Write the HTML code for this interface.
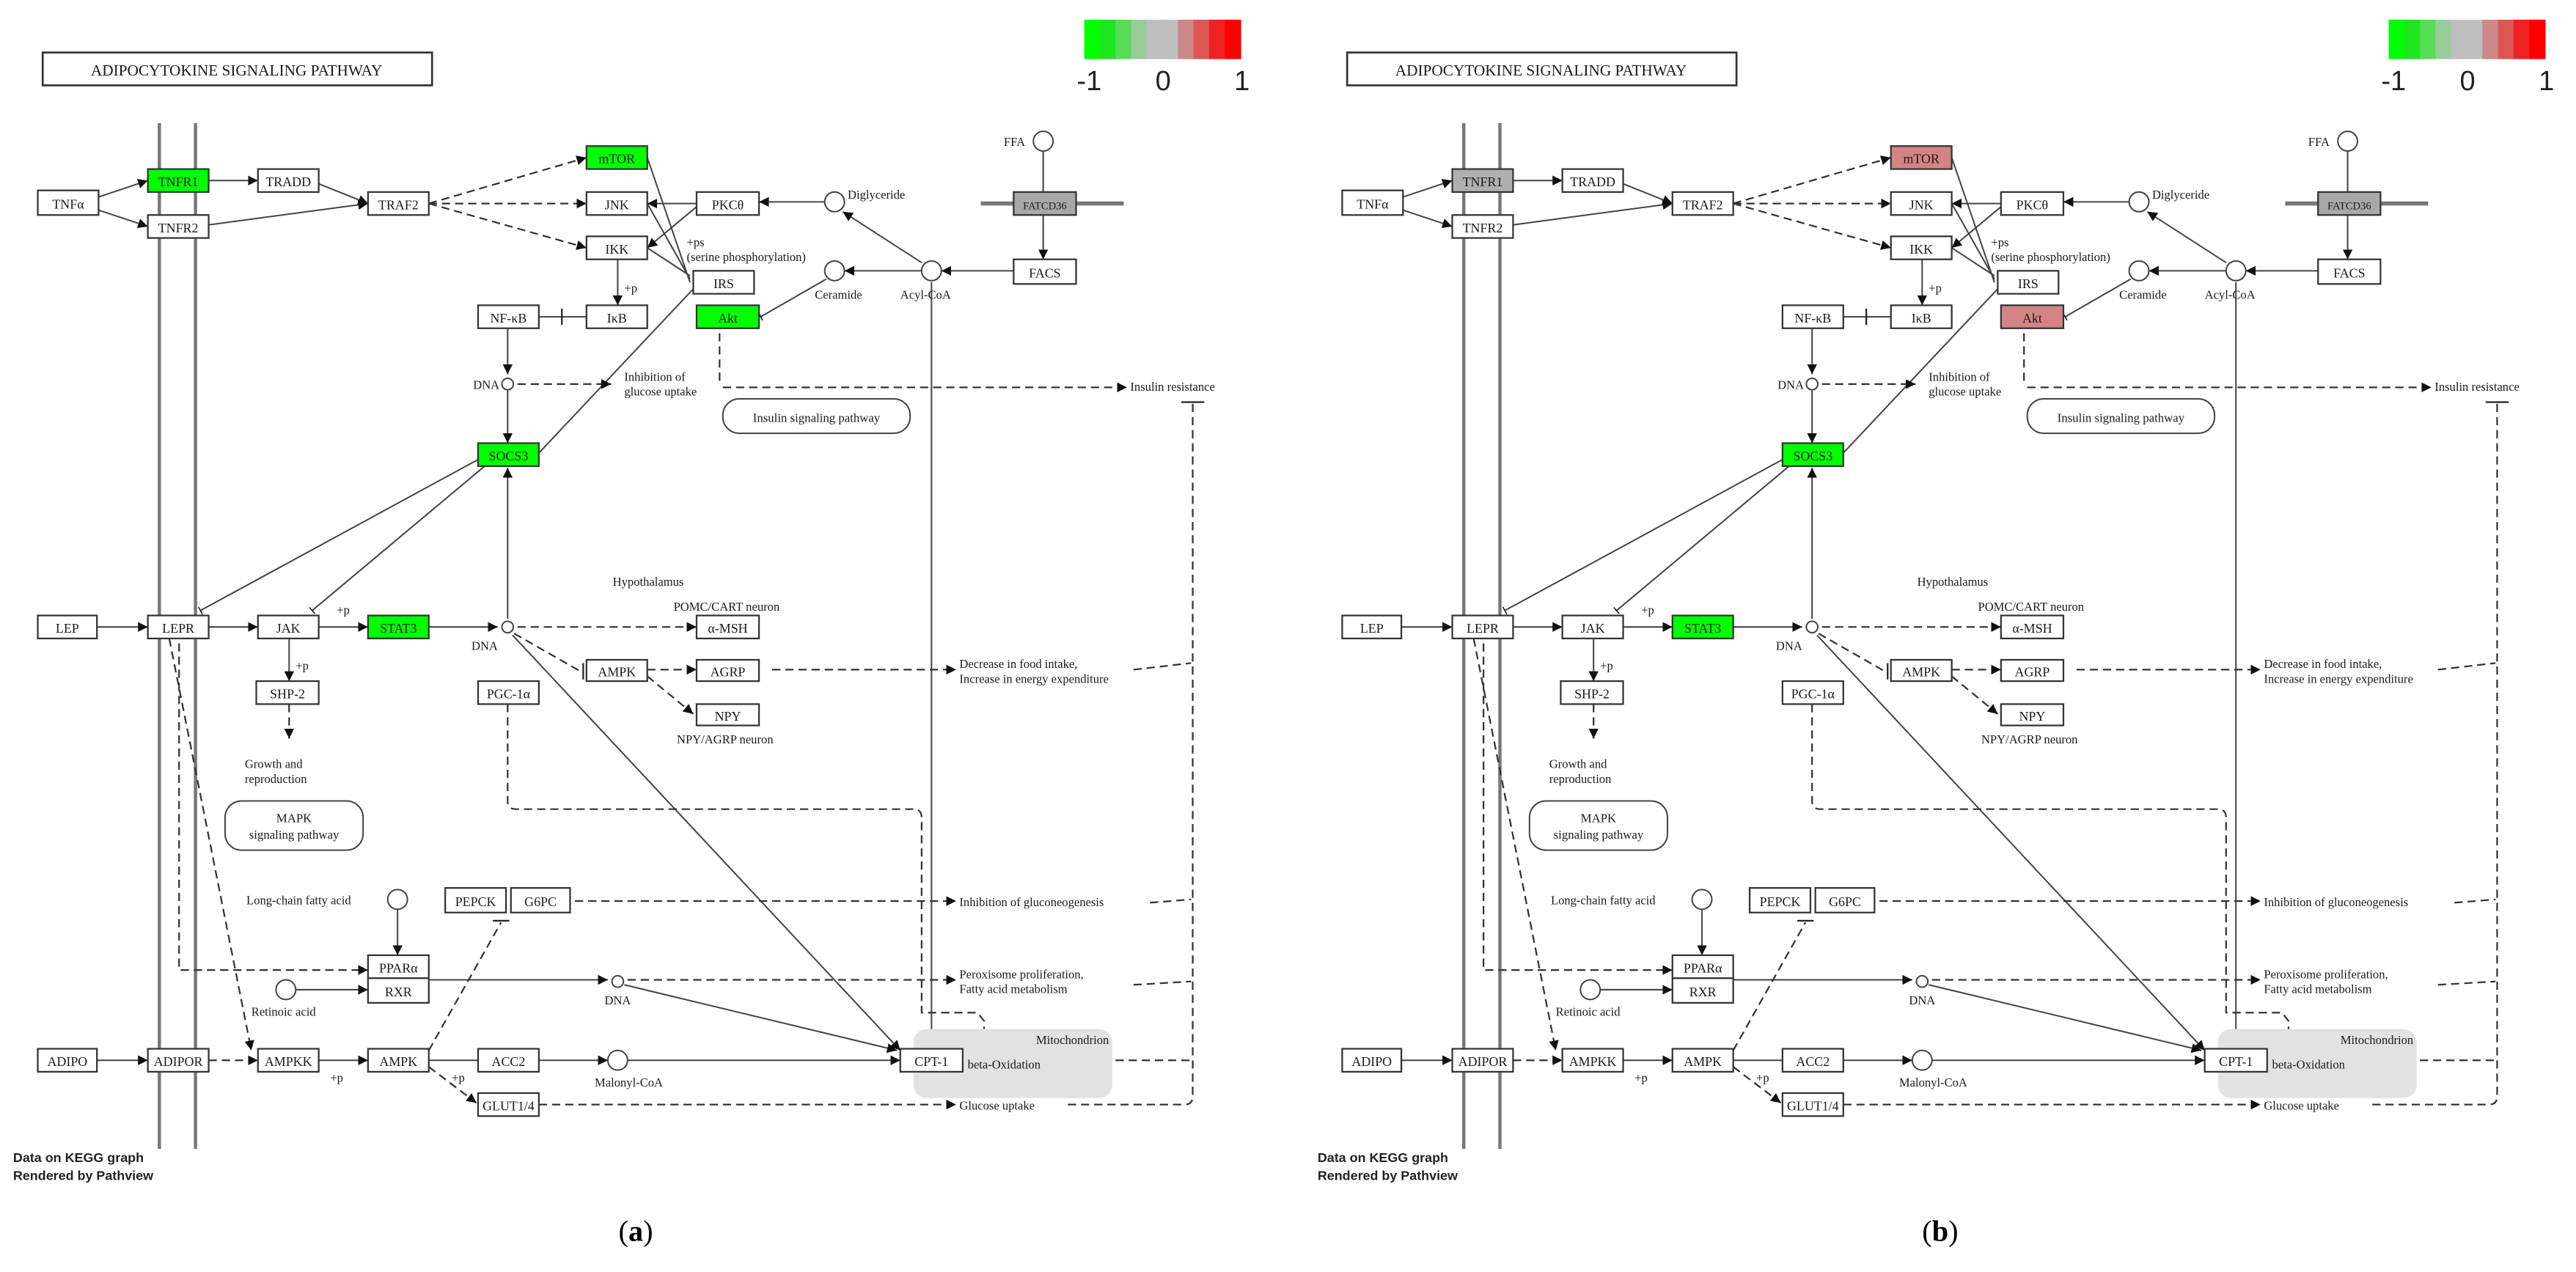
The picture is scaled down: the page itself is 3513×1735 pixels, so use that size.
<!DOCTYPE html>
<html><head><meta charset="utf-8"><style>
html,body{margin:0;padding:0;background:#fff;}
svg{display:block}
.b{fill:#fff;stroke:#333;stroke-width:1}
.t{font-family:"Liberation Serif",serif;font-size:8px;fill:#1a1a1a;text-anchor:middle}
.l{font-family:"Liberation Serif",serif;font-size:7.4px;fill:#1a1a1a}
.s{stroke:#444;stroke-width:0.9;fill:none}
.d{stroke:#333;stroke-width:1;fill:none;stroke-dasharray:5 3}
.g{font-family:"Liberation Sans",sans-serif;fill:#222}
</style></head><body>
<svg width="3513" height="1735" viewBox="0 0 1568 775" preserveAspectRatio="none" xmlns="http://www.w3.org/2000/svg">
<defs>
<marker id="a" viewBox="0 0 10 10" refX="10" refY="5" markerWidth="6" markerHeight="6" orient="auto" markerUnits="userSpaceOnUse"><path d="M0,0L10,5L0,10z" fill="#111"/></marker>
<marker id="t" viewBox="0 0 4 10" refX="2" refY="5" markerWidth="2" markerHeight="8" orient="auto" markerUnits="userSpaceOnUse"><path d="M2,0V10" stroke="#222" stroke-width="1.5"/></marker>
</defs>

<!-- PANEL A -->
<g>
<rect x="26" y="32" width="237" height="20" fill="#fff" stroke="#333" stroke-width="1.2"/>
<text x="144" y="46" class="t" style="font-size:9.5px">ADIPOCYTOKINE SIGNALING PATHWAY</text>
<rect x="660" y="12" width="10" height="24" fill="#00ff00"/><rect x="669.5" y="12" width="10" height="24" fill="#1ee61e"/><rect x="679" y="12" width="10" height="24" fill="#55dd55"/><rect x="688.5" y="12" width="10" height="24" fill="#99cc99"/><rect x="698" y="12" width="10" height="24" fill="#bebebe"/><rect x="707.5" y="12" width="10" height="24" fill="#bebebe"/><rect x="717" y="12" width="10" height="24" fill="#cc8888"/><rect x="726.5" y="12" width="10" height="24" fill="#dd5555"/><rect x="736" y="12" width="10" height="24" fill="#ee2222"/><rect x="745.5" y="12" width="10" height="24" fill="#ff0000"/>
<text x="663" y="55" class="g" style="font-size:17px;text-anchor:middle">-1</text><text x="708" y="55" class="g" style="font-size:17px;text-anchor:middle">0</text><text x="756" y="55" class="g" style="font-size:17px;text-anchor:middle">1</text>
<line x1="97" y1="75" x2="97" y2="700" stroke="#777" stroke-width="2"/><line x1="119" y1="75" x2="119" y2="700" stroke="#777" stroke-width="2"/>
<g class="s" marker-end="url(#a)">
<path d="M60,120L90,110"/><path d="M60,128L90,138"/><path d="M127,110L157,110"/><path d="M194,112L224,124"/><path d="M127,137L224,124"/><path d="M424,124L394,124"/><path d="M424,126L394,151"/><path d="M502,123L462,123"/><path d="M561,160L513,129"/><path d="M561,165L514,165"/><path d="M617,165L573,165"/><path d="M635,92L635,158"/><path d="M376,158L376,186"/><path d="M309,200L309,228"/><path d="M309,238L309,270"/><path d="M309,377L309,285"/><path d="M59,382L90,382"/><path d="M127,382L157,382"/><path d="M194,382L224,382"/><path d="M261,382L303,382"/><path d="M176,389L176,415"/><path d="M312,387L548,640"/><path d="M242,554L242,582"/><path d="M180,603L224,603"/><path d="M261,597L370,597"/><path d="M380,600L546,640"/><path d="M59,646L90,646"/><path d="M194,646L224,646"/><path d="M328,646L370,646"/><path d="M567,172L567,662"/><path d="M382,646L548,646"/>
</g>
<path class="s" d="M394,96L420,172M394,124L420,170M394,151L420,168M422,176L328,276"/>
<g class="s" marker-end="url(#t)">
<path d="M328,193L357,193"/><path d="M503,170L463,193"/><path d="M291,280L122,372"/><path d="M295,284L190,372"/><path d="M261,646L291,646"/>
</g>
<line x1="342" y1="188" x2="342" y2="198" stroke="#222" stroke-width="1"/>
<g class="d" marker-end="url(#a)">
<path d="M261,124L357,96"/><path d="M261,124L357,124"/><path d="M261,124L357,151"/><path d="M315,234L372,234"/><path d="M440,236L686,236"/><path d="M315,382L424,382"/><path d="M394,408L424,408"/><path d="M394,412L422,435"/><path d="M470,408L582,408"/><path d="M176,429L176,450"/><path d="M350,549L582,549"/><path d="M382,597L582,597"/><path d="M328,673L582,673"/><path d="M127,646L157,646"/><path d="M261,650L290,672"/><path d="M103,389L153,640"/><path d="M109,392L109,591L224,591"/><path d="M309,429L309,488Q309,493 314,493L556,493Q561,493 561,498L561,617L595,617L599,622L599,640"/>
</g>
<path class="d" d="M438,203L438,232M313,386L355,410M690,408L725,404M700,550L725,548M690,600L725,598M655,646L725,646M650,673L721,673Q726,673 726,668L726,245M261,640L305,562"/>
<line x1="719" y1="245" x2="733" y2="245" stroke="#222" stroke-width="1"/>
<line x1="300" y1="561" x2="310" y2="561" stroke="#222" stroke-width="1"/>
<line x1="355" y1="404" x2="355" y2="414" stroke="#222" stroke-width="1"/>
<line x1="597" y1="124" x2="684" y2="124" stroke="#777" stroke-width="2.5"/>
<rect x="556" y="627" width="121" height="42" rx="8" fill="#e2e2e2"/>
<text x="675" y="636" class="l" style="text-anchor:end">Mitochondrion</text>
<text x="589" y="651" class="l">beta-Oxidation</text>
<rect x="440" y="243" width="114" height="21" rx="10" fill="#fff" stroke="#444" stroke-width="0.9"/>
<text x="497" y="257" class="t" style="font-size:7.5px">Insulin signaling pathway</text>
<rect x="137" y="488" width="84" height="30" rx="10" fill="#fff" stroke="#444" stroke-width="0.9"/>
<text x="179" y="501" class="t" style="font-size:7.5px">MAPK</text><text x="179" y="511" class="t" style="font-size:7.5px">signaling pathway</text>
<g fill="#fff" stroke="#444" stroke-width="0.9">
<circle cx="635" cy="86" r="6"/><circle cx="508" cy="123" r="6"/><circle cx="508" cy="165" r="6"/><circle cx="567" cy="165" r="6"/><circle cx="309" cy="234" r="3.5"/><circle cx="309" cy="382" r="3.5"/><circle cx="242" cy="548" r="6"/><circle cx="174" cy="603" r="6"/><circle cx="376" cy="598" r="3.5"/><circle cx="376" cy="646" r="6"/>
</g>
<rect class="b" x="23" y="116" width="37" height="15"/><text class="t" x="41.5" y="127">TNFα</text>
<rect class="b" x="90" y="103" width="37" height="14" style="fill:#00ff00"/><text class="t" x="108.5" y="113.5">TNFR1</text>
<rect class="b" x="90" y="131" width="37" height="14"/><text class="t" x="108.5" y="141.5">TNFR2</text>
<rect class="b" x="157" y="103" width="37" height="14"/><text class="t" x="175.5" y="113.5">TRADD</text>
<rect class="b" x="224" y="117" width="37" height="14"/><text class="t" x="242.5" y="127.5">TRAF2</text>
<rect class="b" x="357" y="89" width="37" height="14" style="fill:#00ff00"/><text class="t" x="375.5" y="99.5">mTOR</text>
<rect class="b" x="357" y="117" width="37" height="14"/><text class="t" x="375.5" y="127.5">JNK</text>
<rect class="b" x="424" y="117" width="38" height="14"/><text class="t" x="443" y="127.5">PKCθ</text>
<rect class="b" x="357" y="144" width="37" height="14"/><text class="t" x="375.5" y="154.5">IKK</text>
<rect class="b" x="422" y="165" width="37" height="14"/><text class="t" x="440.5" y="175.5">IRS</text>
<rect class="b" x="357" y="186" width="37" height="14"/><text class="t" x="375.5" y="196.5">IκB</text>
<rect class="b" x="291" y="186" width="37" height="14"/><text class="t" x="309.5" y="196.5">NF-κB</text>
<rect class="b" x="424" y="186" width="38" height="14" style="fill:#00ff00"/><text class="t" x="443" y="196.5">Akt</text>
<rect class="b" x="617" y="117" width="38" height="14" style="fill:#a8a8a8"/><text class="t" x="636" y="127.5" style="font-size:6.5px">FATCD36</text>
<rect class="b" x="617" y="158" width="38" height="15"/><text class="t" x="636" y="169">FACS</text>
<rect class="b" x="291" y="270" width="37" height="14" style="fill:#00ff00"/><text class="t" x="309.5" y="280.5">SOCS3</text>
<rect class="b" x="23" y="375" width="36" height="14"/><text class="t" x="41" y="385.5">LEP</text>
<rect class="b" x="90" y="375" width="37" height="14"/><text class="t" x="108.5" y="385.5">LEPR</text>
<rect class="b" x="157" y="375" width="37" height="14"/><text class="t" x="175.5" y="385.5">JAK</text>
<rect class="b" x="224" y="375" width="37" height="14" style="fill:#00ff00"/><text class="t" x="242.5" y="385.5">STAT3</text>
<rect class="b" x="424" y="375" width="38" height="14"/><text class="t" x="443" y="385.5">α-MSH</text>
<rect class="b" x="357" y="402" width="37" height="13"/><text class="t" x="375.5" y="412">AMPK</text>
<rect class="b" x="424" y="402" width="38" height="13"/><text class="t" x="443" y="412">AGRP</text>
<rect class="b" x="156" y="415" width="38" height="14"/><text class="t" x="175" y="425.5">SHP-2</text>
<rect class="b" x="291" y="415" width="37" height="14"/><text class="t" x="309.5" y="425.5">PGC-1α</text>
<rect class="b" x="424" y="429" width="38" height="13"/><text class="t" x="443" y="439">NPY</text>
<rect class="b" x="271" y="541" width="37" height="15"/><text class="t" x="289.5" y="552">PEPCK</text>
<rect class="b" x="311" y="541" width="36" height="15"/><text class="t" x="329" y="552">G6PC</text>
<rect class="b" x="224" y="582" width="37" height="14"/><text class="t" x="242.5" y="592.5">PPARα</text>
<rect class="b" x="224" y="596" width="37" height="15"/><text class="t" x="242.5" y="607">RXR</text>
<rect class="b" x="548" y="639" width="38" height="14"/><text class="t" x="567" y="649.5">CPT-1</text>
<rect class="b" x="23" y="639" width="36" height="14"/><text class="t" x="41" y="649.5">ADIPO</text>
<rect class="b" x="90" y="639" width="37" height="14"/><text class="t" x="108.5" y="649.5">ADIPOR</text>
<rect class="b" x="157" y="639" width="37" height="14"/><text class="t" x="175.5" y="649.5">AMPKK</text>
<rect class="b" x="224" y="639" width="37" height="14"/><text class="t" x="242.5" y="649.5">AMPK</text>
<rect class="b" x="291" y="639" width="37" height="14"/><text class="t" x="309.5" y="649.5">ACC2</text>
<rect class="b" x="291" y="666" width="37" height="14"/><text class="t" x="309.5" y="676.5">GLUT1/4</text>
<text class="l" x="611" y="89">FFA</text><text class="l" x="516" y="121">Diglyceride</text>
<text class="l" x="496" y="182">Ceramide</text><text class="l" x="548" y="182">Acyl-CoA</text>
<text class="l" x="418" y="150">+ps</text><text class="l" x="418" y="159">(serine phosphorylation)</text>
<text class="l" x="380" y="178">+p</text><text class="l" x="288" y="237">DNA</text>
<text class="l" x="380" y="232">Inhibition of</text><text class="l" x="380" y="241">glucose uptake</text>
<text class="l" x="688" y="238">Insulin resistance</text>
<text class="l" x="373" y="357">Hypothalamus</text><text class="l" x="410" y="372">POMC/CART neuron</text>
<text class="l" x="205" y="374">+p</text><text class="l" x="287" y="396">DNA</text><text class="l" x="180" y="408">+p</text>
<text class="l" x="584" y="407">Decrease in food intake,</text><text class="l" x="584" y="416">Increase in energy expenditure</text>
<text class="l" x="412" y="453">NPY/AGRP neuron</text>
<text class="l" x="149" y="468">Growth and</text><text class="l" x="149" y="477">reproduction</text>
<text class="l" x="150" y="551">Long-chain fatty acid</text>
<text class="l" x="584" y="552">Inhibition of gluconeogenesis</text>
<text class="l" x="153" y="619">Retinoic acid</text><text class="l" x="368" y="612">DNA</text>
<text class="l" x="584" y="596">Peroxisome proliferation,</text><text class="l" x="584" y="605">Fatty acid metabolism</text>
<text class="l" x="201" y="659">+p</text><text class="l" x="275" y="659">+p</text>
<text class="l" x="362" y="662">Malonyl-CoA</text><text class="l" x="584" y="676">Glucose uptake</text>
<text x="8" y="708" class="g" style="font-size:8px;font-weight:bold">Data on KEGG graph</text>
<text x="8" y="719" class="g" style="font-size:8px;font-weight:bold">Rendered by Pathview</text>
<text x="387" y="756" style="font-family:'Liberation Serif',serif;font-size:18px;text-anchor:middle">(<tspan font-weight="bold">a</tspan>)</text>
</g>

<!-- PANEL B -->
<g transform="translate(794,0)">
<rect x="26" y="32" width="237" height="20" fill="#fff" stroke="#333" stroke-width="1.2"/>
<text x="144" y="46" class="t" style="font-size:9.5px">ADIPOCYTOKINE SIGNALING PATHWAY</text>
<rect x="660" y="12" width="10" height="24" fill="#00ff00"/><rect x="669.5" y="12" width="10" height="24" fill="#1ee61e"/><rect x="679" y="12" width="10" height="24" fill="#55dd55"/><rect x="688.5" y="12" width="10" height="24" fill="#99cc99"/><rect x="698" y="12" width="10" height="24" fill="#bebebe"/><rect x="707.5" y="12" width="10" height="24" fill="#bebebe"/><rect x="717" y="12" width="10" height="24" fill="#cc8888"/><rect x="726.5" y="12" width="10" height="24" fill="#dd5555"/><rect x="736" y="12" width="10" height="24" fill="#ee2222"/><rect x="745.5" y="12" width="10" height="24" fill="#ff0000"/>
<text x="663" y="55" class="g" style="font-size:17px;text-anchor:middle">-1</text><text x="708" y="55" class="g" style="font-size:17px;text-anchor:middle">0</text><text x="756" y="55" class="g" style="font-size:17px;text-anchor:middle">1</text>
<line x1="97" y1="75" x2="97" y2="700" stroke="#777" stroke-width="2"/><line x1="119" y1="75" x2="119" y2="700" stroke="#777" stroke-width="2"/>
<g class="s" marker-end="url(#a)">
<path d="M60,120L90,110"/><path d="M60,128L90,138"/><path d="M127,110L157,110"/><path d="M194,112L224,124"/><path d="M127,137L224,124"/><path d="M424,124L394,124"/><path d="M424,126L394,151"/><path d="M502,123L462,123"/><path d="M561,160L513,129"/><path d="M561,165L514,165"/><path d="M617,165L573,165"/><path d="M635,92L635,158"/><path d="M376,158L376,186"/><path d="M309,200L309,228"/><path d="M309,238L309,270"/><path d="M309,377L309,285"/><path d="M59,382L90,382"/><path d="M127,382L157,382"/><path d="M194,382L224,382"/><path d="M261,382L303,382"/><path d="M176,389L176,415"/><path d="M312,387L548,640"/><path d="M242,554L242,582"/><path d="M180,603L224,603"/><path d="M261,597L370,597"/><path d="M380,600L546,640"/><path d="M59,646L90,646"/><path d="M194,646L224,646"/><path d="M328,646L370,646"/><path d="M567,172L567,662"/><path d="M382,646L548,646"/>
</g>
<path class="s" d="M394,96L420,172M394,124L420,170M394,151L420,168M422,176L328,276"/>
<g class="s" marker-end="url(#t)">
<path d="M328,193L357,193"/><path d="M503,170L463,193"/><path d="M291,280L122,372"/><path d="M295,284L190,372"/><path d="M261,646L291,646"/>
</g>
<line x1="342" y1="188" x2="342" y2="198" stroke="#222" stroke-width="1"/>
<g class="d" marker-end="url(#a)">
<path d="M261,124L357,96"/><path d="M261,124L357,124"/><path d="M261,124L357,151"/><path d="M315,234L372,234"/><path d="M440,236L686,236"/><path d="M315,382L424,382"/><path d="M394,408L424,408"/><path d="M394,412L422,435"/><path d="M470,408L582,408"/><path d="M176,429L176,450"/><path d="M350,549L582,549"/><path d="M382,597L582,597"/><path d="M328,673L582,673"/><path d="M127,646L157,646"/><path d="M261,650L290,672"/><path d="M103,389L153,640"/><path d="M109,392L109,591L224,591"/><path d="M309,429L309,488Q309,493 314,493L556,493Q561,493 561,498L561,617L595,617L599,622L599,640"/>
</g>
<path class="d" d="M438,203L438,232M313,386L355,410M690,408L725,404M700,550L725,548M690,600L725,598M655,646L725,646M650,673L721,673Q726,673 726,668L726,245M261,640L305,562"/>
<line x1="719" y1="245" x2="733" y2="245" stroke="#222" stroke-width="1"/>
<line x1="300" y1="561" x2="310" y2="561" stroke="#222" stroke-width="1"/>
<line x1="355" y1="404" x2="355" y2="414" stroke="#222" stroke-width="1"/>
<line x1="597" y1="124" x2="684" y2="124" stroke="#777" stroke-width="2.5"/>
<rect x="556" y="627" width="121" height="42" rx="8" fill="#e2e2e2"/>
<text x="675" y="636" class="l" style="text-anchor:end">Mitochondrion</text>
<text x="589" y="651" class="l">beta-Oxidation</text>
<rect x="440" y="243" width="114" height="21" rx="10" fill="#fff" stroke="#444" stroke-width="0.9"/>
<text x="497" y="257" class="t" style="font-size:7.5px">Insulin signaling pathway</text>
<rect x="137" y="488" width="84" height="30" rx="10" fill="#fff" stroke="#444" stroke-width="0.9"/>
<text x="179" y="501" class="t" style="font-size:7.5px">MAPK</text><text x="179" y="511" class="t" style="font-size:7.5px">signaling pathway</text>
<g fill="#fff" stroke="#444" stroke-width="0.9">
<circle cx="635" cy="86" r="6"/><circle cx="508" cy="123" r="6"/><circle cx="508" cy="165" r="6"/><circle cx="567" cy="165" r="6"/><circle cx="309" cy="234" r="3.5"/><circle cx="309" cy="382" r="3.5"/><circle cx="242" cy="548" r="6"/><circle cx="174" cy="603" r="6"/><circle cx="376" cy="598" r="3.5"/><circle cx="376" cy="646" r="6"/>
</g>
<rect class="b" x="23" y="116" width="37" height="15"/><text class="t" x="41.5" y="127">TNFα</text>
<rect class="b" x="90" y="103" width="37" height="14" style="fill:#b0b0b0"/><text class="t" x="108.5" y="113.5">TNFR1</text>
<rect class="b" x="90" y="131" width="37" height="14"/><text class="t" x="108.5" y="141.5">TNFR2</text>
<rect class="b" x="157" y="103" width="37" height="14"/><text class="t" x="175.5" y="113.5">TRADD</text>
<rect class="b" x="224" y="117" width="37" height="14"/><text class="t" x="242.5" y="127.5">TRAF2</text>
<rect class="b" x="357" y="89" width="37" height="14" style="fill:#d48484"/><text class="t" x="375.5" y="99.5">mTOR</text>
<rect class="b" x="357" y="117" width="37" height="14"/><text class="t" x="375.5" y="127.5">JNK</text>
<rect class="b" x="424" y="117" width="38" height="14"/><text class="t" x="443" y="127.5">PKCθ</text>
<rect class="b" x="357" y="144" width="37" height="14"/><text class="t" x="375.5" y="154.5">IKK</text>
<rect class="b" x="422" y="165" width="37" height="14"/><text class="t" x="440.5" y="175.5">IRS</text>
<rect class="b" x="357" y="186" width="37" height="14"/><text class="t" x="375.5" y="196.5">IκB</text>
<rect class="b" x="291" y="186" width="37" height="14"/><text class="t" x="309.5" y="196.5">NF-κB</text>
<rect class="b" x="424" y="186" width="38" height="14" style="fill:#d48484"/><text class="t" x="443" y="196.5">Akt</text>
<rect class="b" x="617" y="117" width="38" height="14" style="fill:#a8a8a8"/><text class="t" x="636" y="127.5" style="font-size:6.5px">FATCD36</text>
<rect class="b" x="617" y="158" width="38" height="15"/><text class="t" x="636" y="169">FACS</text>
<rect class="b" x="291" y="270" width="37" height="14" style="fill:#00ff00"/><text class="t" x="309.5" y="280.5">SOCS3</text>
<rect class="b" x="23" y="375" width="36" height="14"/><text class="t" x="41" y="385.5">LEP</text>
<rect class="b" x="90" y="375" width="37" height="14"/><text class="t" x="108.5" y="385.5">LEPR</text>
<rect class="b" x="157" y="375" width="37" height="14"/><text class="t" x="175.5" y="385.5">JAK</text>
<rect class="b" x="224" y="375" width="37" height="14" style="fill:#00ff00"/><text class="t" x="242.5" y="385.5">STAT3</text>
<rect class="b" x="424" y="375" width="38" height="14"/><text class="t" x="443" y="385.5">α-MSH</text>
<rect class="b" x="357" y="402" width="37" height="13"/><text class="t" x="375.5" y="412">AMPK</text>
<rect class="b" x="424" y="402" width="38" height="13"/><text class="t" x="443" y="412">AGRP</text>
<rect class="b" x="156" y="415" width="38" height="14"/><text class="t" x="175" y="425.5">SHP-2</text>
<rect class="b" x="291" y="415" width="37" height="14"/><text class="t" x="309.5" y="425.5">PGC-1α</text>
<rect class="b" x="424" y="429" width="38" height="13"/><text class="t" x="443" y="439">NPY</text>
<rect class="b" x="271" y="541" width="37" height="15"/><text class="t" x="289.5" y="552">PEPCK</text>
<rect class="b" x="311" y="541" width="36" height="15"/><text class="t" x="329" y="552">G6PC</text>
<rect class="b" x="224" y="582" width="37" height="14"/><text class="t" x="242.5" y="592.5">PPARα</text>
<rect class="b" x="224" y="596" width="37" height="15"/><text class="t" x="242.5" y="607">RXR</text>
<rect class="b" x="548" y="639" width="38" height="14"/><text class="t" x="567" y="649.5">CPT-1</text>
<rect class="b" x="23" y="639" width="36" height="14"/><text class="t" x="41" y="649.5">ADIPO</text>
<rect class="b" x="90" y="639" width="37" height="14"/><text class="t" x="108.5" y="649.5">ADIPOR</text>
<rect class="b" x="157" y="639" width="37" height="14"/><text class="t" x="175.5" y="649.5">AMPKK</text>
<rect class="b" x="224" y="639" width="37" height="14"/><text class="t" x="242.5" y="649.5">AMPK</text>
<rect class="b" x="291" y="639" width="37" height="14"/><text class="t" x="309.5" y="649.5">ACC2</text>
<rect class="b" x="291" y="666" width="37" height="14"/><text class="t" x="309.5" y="676.5">GLUT1/4</text>
<text class="l" x="611" y="89">FFA</text><text class="l" x="516" y="121">Diglyceride</text>
<text class="l" x="496" y="182">Ceramide</text><text class="l" x="548" y="182">Acyl-CoA</text>
<text class="l" x="418" y="150">+ps</text><text class="l" x="418" y="159">(serine phosphorylation)</text>
<text class="l" x="380" y="178">+p</text><text class="l" x="288" y="237">DNA</text>
<text class="l" x="380" y="232">Inhibition of</text><text class="l" x="380" y="241">glucose uptake</text>
<text class="l" x="688" y="238">Insulin resistance</text>
<text class="l" x="373" y="357">Hypothalamus</text><text class="l" x="410" y="372">POMC/CART neuron</text>
<text class="l" x="205" y="374">+p</text><text class="l" x="287" y="396">DNA</text><text class="l" x="180" y="408">+p</text>
<text class="l" x="584" y="407">Decrease in food intake,</text><text class="l" x="584" y="416">Increase in energy expenditure</text>
<text class="l" x="412" y="453">NPY/AGRP neuron</text>
<text class="l" x="149" y="468">Growth and</text><text class="l" x="149" y="477">reproduction</text>
<text class="l" x="150" y="551">Long-chain fatty acid</text>
<text class="l" x="584" y="552">Inhibition of gluconeogenesis</text>
<text class="l" x="153" y="619">Retinoic acid</text><text class="l" x="368" y="612">DNA</text>
<text class="l" x="584" y="596">Peroxisome proliferation,</text><text class="l" x="584" y="605">Fatty acid metabolism</text>
<text class="l" x="201" y="659">+p</text><text class="l" x="275" y="659">+p</text>
<text class="l" x="362" y="662">Malonyl-CoA</text><text class="l" x="584" y="676">Glucose uptake</text>
<text x="8" y="708" class="g" style="font-size:8px;font-weight:bold">Data on KEGG graph</text>
<text x="8" y="719" class="g" style="font-size:8px;font-weight:bold">Rendered by Pathview</text>
<text x="387" y="756" style="font-family:'Liberation Serif',serif;font-size:18px;text-anchor:middle">(<tspan font-weight="bold">b</tspan>)</text>
</g>
</svg>
</body></html>
